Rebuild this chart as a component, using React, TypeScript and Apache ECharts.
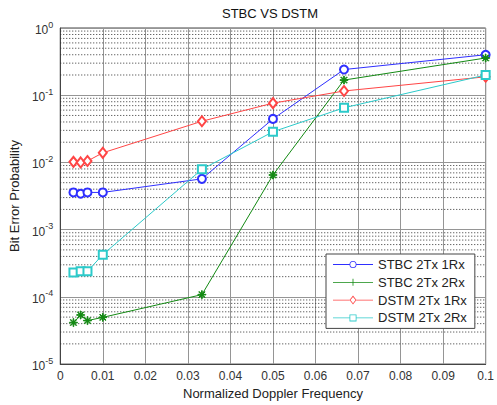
import React, { useEffect, useRef } from 'react';
import * as echarts from 'echarts';

// Normalized Doppler frequency values
const xValues = [0.0031, 0.0048, 0.0064, 0.01, 0.0333, 0.05, 0.0667, 0.1];
// Bit error probabilities
const stbc2Tx1Rx = [0.00358, 0.00342, 0.00358, 0.00358, 0.0057, 0.0444, 0.241, 0.4];
const stbc2Tx2Rx = [4.15e-5, 5.38e-5, 4.44e-5, 4.96e-5, 1.08e-4, 0.0065, 0.168, 0.358];
const dstm2Tx1Rx = [0.0102, 0.01, 0.0105, 0.0139, 0.041, 0.0762, 0.1156, 0.188];
const dstm2Tx2Rx = [2.3e-4, 2.4e-4, 2.4e-4, 4.25e-4, 0.0079, 0.0286, 0.065, 0.2];

const seriesNames = ['STBC 2Tx 1Rx', 'STBC 2Tx 2Rx', 'DSTM 2Tx 1Rx', 'DSTM 2Tx 2Rx'];
const xTickLabels = ['0', '0.01', '0.02', '0.03', '0.04', '0.05', '0.06', '0.07', '0.08', '0.09', '0.1'];
const yDecades = [-5, -4, -3, -2, -1, 0];
const minorMultipliers = [2, 3, 4, 5, 6, 7, 8, 9];

const FONT = 'Liberation Sans, Arial, sans-serif';
const STAR = 'path://M4.6,0h0.8v10h-0.8z M0,4.6h10v0.8h-10z M1.6,1L9,8.4L8.4,9L1,1.6z M8.4,1L9,1.6L1.6,9L1,8.4z';

// legend icons (line + marker), 40 px wide
const ICON_CIRCLE =
  'path://M0,4.1h16.5v0.8h-16.5z M23.5,4.1h16.5v0.8h-16.5z ' +
  'M16.5,4.5A3.5,3.5 0 1,1 23.5,4.5A3.5,3.5 0 1,1 16.5,4.5Z M17.3,4.5A2.7,2.7 0 1,0 22.7,4.5A2.7,2.7 0 1,0 17.3,4.5Z ' +
  'M20,0h0.01v0.01h-0.01z M20,8.99h0.01v0.01h-0.01z';
const ICON_STAR =
  'path://M0,4.1h40v0.8h-40z M19.6,1h0.8v7h-0.8z M17.5,4.1h5v0.8h-5z ' +
  'M20,0h0.01v0.01h-0.01z M20,8.99h0.01v0.01h-0.01z';
const ICON_DIAMOND =
  'path://M0,4.1h16.6v0.8h-16.6z M23.4,4.1h16.6v0.8h-16.6z ' +
  'M16.5,4.5L20,0L23.5,4.5L20,9Z M17.5,4.5L20,7.7L22.5,4.5L20,1.3Z';
const ICON_SQUARE =
  'path://M0,4.1h16.5v0.8h-16.5z M23.5,4.1h16.5v0.8h-16.5z ' +
  'M16.5,1h7v7h-7z M17.3,1.8v5.4h5.4v-5.4z ' +
  'M20,0h0.01v0.01h-0.01z M20,8.99h0.01v0.01h-0.01z';
const legendIcons = [ICON_CIRCLE, ICON_STAR, ICON_DIAMOND, ICON_SQUARE];

export default function App() {
  const ref = useRef<HTMLDivElement>(null);
  useEffect(() => {
    if (!ref.current) return;
    const chart = echarts.init(ref.current, undefined, { renderer: 'svg' });
    const minorValues: number[] = [];
    yDecades.slice(0, -1).forEach((d) => {
      minorMultipliers.forEach((m) => minorValues.push(m * Math.pow(10, d)));
    });
    const xMin = 0;
    const xMax = 0.1;
    const minorSeries = minorValues.map((v, i) => ({
      name: '__minor' + i,
      type: 'line',
      data: [[xMin, v], [xMax, v]],
      symbol: 'none',
      silent: true,
      z: 1,
      lineStyle: { type: [1, 2], color: '#333', width: 1 },
    }));
    const pairs = (ys: number[]) => xValues.map((x, i) => [x, ys[i]]);
    const mk = (name: string, ys: number[], color: string, symbol: string, size: any) => ({
      name,
      type: 'line',
      data: pairs(ys),
      symbol,
      symbolSize: size,
      showAllSymbol: true,
      z: 3,
      lineStyle: { color, width: 1 },
      itemStyle: { color, borderColor: color, borderWidth: 1 },
    });
    chart.setOption({
      animation: false,
      backgroundColor: '#ffffff',
      textStyle: { fontFamily: FONT },
      title: {
        text: 'STBC VS DSTM',
        left: 270,
        top: 7,
        padding: 0,
        textAlign: 'center',
        textStyle: { fontSize: 13, fontWeight: 'normal', color: '#111', fontFamily: FONT },
      },
      grid: {
        left: 60,
        top: 28,
        right: 6.5,
        bottom: 37,
        show: true,
        borderColor: '#444',
        borderWidth: 1,
        backgroundColor: '#fff',
      },
      legend: {
        orient: 'vertical',
        left: 326,
        top: 254,
        padding: [4, 8, 4, 7],
        itemWidth: 40,
        itemHeight: 9,
        itemGap: 4.8,
        backgroundColor: '#fff',
        borderColor: '#444',
        borderWidth: 1,
        data: seriesNames.map((name, i) => ({ name, icon: legendIcons[i] })),
        itemStyle: { borderWidth: 0 },
        textStyle: { fontSize: 13, color: '#222', fontFamily: FONT },
      },
      xAxis: {
        type: 'value',
        min: xMin,
        max: xMax,
        interval: 0.01,
        name: 'Normalized Doppler Frequency',
        nameLocation: 'middle',
        nameGap: 21,
        nameTextStyle: { fontSize: 13, color: '#222', fontFamily: FONT },
        axisLine: { show: true, lineStyle: { color: '#444' } },
        axisTick: { show: false },
        axisLabel: {
          fontSize: 12,
          color: '#333',
          margin: 6,
          fontFamily: FONT,
          formatter: (v: number) => xTickLabels[Math.round(v / 0.01)] ?? '',
        },
        splitLine: { show: true, lineStyle: { color: '#959595', width: 1 } },
      },
      yAxis: {
        type: 'log',
        logBase: 10,
        min: Math.pow(10, yDecades[0]),
        max: Math.pow(10, yDecades[yDecades.length - 1]),
        name: 'Bit Error Probability',
        nameLocation: 'middle',
        nameGap: 32,
        nameTextStyle: { fontSize: 13, color: '#222', fontFamily: FONT },
        axisLine: { show: true, lineStyle: { color: '#444' } },
        axisTick: { show: false },
        axisLabel: {
          margin: 7,
          formatter: (v: number) => `{b|10}{s|${Math.round(Math.log10(v))}}`,
          rich: {
            b: { fontSize: 12, color: '#333', fontFamily: FONT, verticalAlign: 'bottom' },
            s: { fontSize: 9, color: '#333', fontFamily: FONT, verticalAlign: 'bottom', padding: [0, 0, 7, 0] },
          },
        },
        splitLine: { show: true, lineStyle: { color: '#959595', width: 1 } },
      },
      series: [
        ...minorSeries,
        mk(seriesNames[0], stbc2Tx1Rx, '#2f2fff', 'emptyCircle', 8),
        mk(seriesNames[1], stbc2Tx2Rx, '#138a13', STAR, 8),
        mk(seriesNames[2], dstm2Tx1Rx, '#ff4545', 'emptyDiamond', [8, 10]),
        mk(seriesNames[3], dstm2Tx2Rx, '#2ccaca', 'emptyRect', 8),
      ],
    });
    return () => chart.dispose();
  }, []);
  return <div ref={ref} style={{ position: 'absolute', left: 0, top: 0, width: 497, height: 405 }} />;
}
